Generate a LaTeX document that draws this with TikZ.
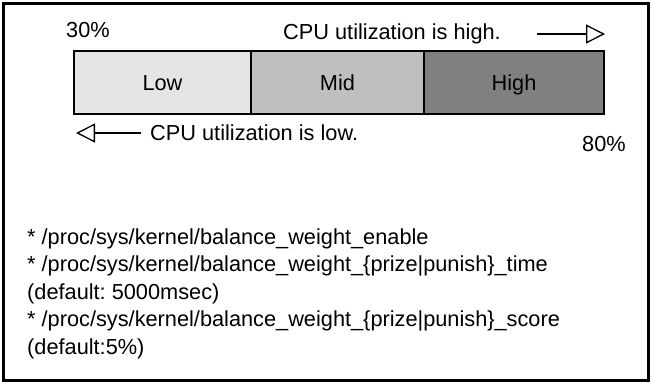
\documentclass[tikz,border=0pt]{standalone}
\usepackage{fontspec}
\setmainfont{Liberation Sans}
\usetikzlibrary{arrows.meta,positioning}
\frenchspacing

\begin{document}
\begin{tikzpicture}[x=1pt,y=-1pt,
font=\fontsize{21.75}{27.5}\selectfont,
level/.style={draw,line width=1.5pt,minimum height=63pt,outer sep=0pt,inner sep=0pt},
lbl/.style={inner sep=0pt,anchor=base},
dirarrow/.style={{Triangle[open,length=19pt,width=19pt]}-,line width=1.3pt}]
\useasboundingbox (0,0) rectangle (652,384);
\draw[line width=3pt] (3,3) rectangle (648.5,380.5);
% utilization levels
\node[level,fill=black!10,minimum width=177pt,anchor=north west] (low) at (74,51) {};
\node[level,fill=black!25,minimum width=173pt,right=0pt of low] (mid) {};
\node[level,fill=black!50,minimum width=180pt,right=0pt of mid] (high) {};
\node[lbl] at (low.center) [yshift=-7.5pt] {Low};
\node[lbl] at (mid.center) [yshift=-7.5pt] {Mid};
\node[lbl] at (high.center) [yshift=-7.5pt] {High};
% thresholds and directions
\node[lbl] (minval) at (88,37) {30\%};
\node[lbl] (maxval) at (604,151) {80\%};
\node[lbl,anchor=base west] (hightext) at (283,39) {CPU utilization is high.};
\node[lbl,anchor=base west] (lowtext) at (150,140) {CPU utilization is low.};
\coordinate (hiS) at (537,34);
\coordinate (hiE) at (605,34);
\coordinate (loS) at (141,133);
\coordinate (loE) at (76,133);
\draw[dirarrow] (hiE) -- (hiS);
\draw[dirarrow] (loE) -- (loS);
% tunables (base = last line)
\node[lbl,anchor=base west,align=left] (params) at (27,354) {* /proc/sys/kernel/balance\_weight\_enable\\
* /proc/sys/kernel/balance\_weight\_\{prize|punish\}\_time\\
(default: 5000msec)\\
* /proc/sys/kernel/balance\_weight\_\{prize|punish\}\_score\\
(default:5\%)};
\end{tikzpicture}
\end{document}
